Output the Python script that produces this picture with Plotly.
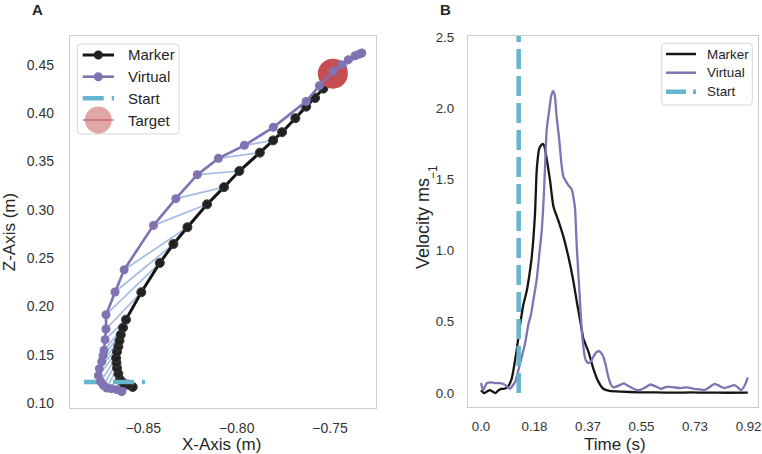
import plotly.graph_objects as go

# ---------------- data ----------------
# Panel A: trajectories (X, Z in metres), in time order
marker_x = [-0.8557, -0.8580, -0.8607, -0.8625, -0.8634, -0.8641, -0.8644, -0.8646,
            -0.8641, -0.8634, -0.8628, -0.8621, -0.8609, -0.8593, -0.8511, -0.8412,
            -0.8339, -0.8264, -0.8159, -0.8068, -0.7986, -0.7876, -0.7805, -0.7757,
            -0.7686, -0.7628, -0.7580, -0.7536, -0.7494, -0.7457, -0.7446, -0.7436]
marker_z = [0.1166, 0.1190, 0.1207, 0.1241, 0.1303, 0.1362, 0.1417, 0.1466,
            0.1531, 0.1586, 0.1645, 0.1707, 0.1780, 0.1863, 0.2147, 0.2450,
            0.2646, 0.2820, 0.3057, 0.3235, 0.3402, 0.3592, 0.3719, 0.3804,
            0.3949, 0.4068, 0.4158, 0.4255, 0.4358, 0.4431, 0.4451, 0.4462]
virtual_x = [-0.8616, -0.8616, -0.8616, -0.8643, -0.8673, -0.8696, -0.8714, -0.8729,
             -0.8741, -0.8736, -0.8723, -0.8716, -0.8711, -0.8705, -0.8700, -0.8700,
             -0.8652, -0.8603, -0.8446, -0.8326, -0.8211, -0.8098, -0.7959, -0.7804,
             -0.7628, -0.7557, -0.7482, -0.7437, -0.7402, -0.7366, -0.7344, -0.7330]
virtual_z = [0.1120, 0.1120, 0.1120, 0.1138, 0.1148, 0.1155, 0.1184, 0.1221,
             0.1283, 0.1355, 0.1428, 0.1490, 0.1545, 0.1656, 0.1766, 0.1914,
             0.2149, 0.2380, 0.2839, 0.3116, 0.3364, 0.3533, 0.3668, 0.3854,
             0.4123, 0.4286, 0.4434, 0.4503, 0.4555, 0.4596, 0.4612, 0.4624]
start_x = [-0.8818, -0.8491]
start_z = 0.1217
target_x = [-0.7485]
target_z = [0.4410]

# Panel B: velocity profiles
time_marker = [0.000, 0.010, 0.020, 0.030, 0.040, 0.050, 0.060, 0.070, 0.080, 0.094,
               0.105, 0.111, 0.122, 0.134, 0.145, 0.157, 0.165, 0.174, 0.185, 0.191,
               0.200, 0.211, 0.216, 0.223, 0.236, 0.248, 0.265, 0.282, 0.299, 0.316,
               0.330, 0.343, 0.351, 0.368, 0.385, 0.402, 0.419, 0.440, 0.480, 0.540,
               0.600, 0.660, 0.720, 0.780, 0.840, 0.914]
vel_marker = [0.02, 0.00, 0.01, 0.02, 0.01, 0.00, 0.02, 0.03, 0.03, 0.05,
              0.10, 0.16, 0.30, 0.48, 0.62, 0.72, 0.82, 0.96, 1.26, 1.57,
              1.72, 1.75, 1.74, 1.67, 1.50, 1.31, 1.21, 1.10, 0.96, 0.79,
              0.62, 0.47, 0.38, 0.29, 0.17, 0.08, 0.03, 0.016, 0.01, 0.005,
              0.004, 0.003, 0.004, 0.003, 0.002, 0.003]
time_virtual = [0.000, 0.007, 0.020, 0.035, 0.050, 0.065, 0.080, 0.090, 0.099, 0.117,
                0.134, 0.151, 0.162, 0.171, 0.180, 0.191, 0.200, 0.208, 0.215, 0.219,
                0.225, 0.234, 0.240, 0.246, 0.252, 0.259, 0.268, 0.275, 0.282, 0.290,
                0.299, 0.311, 0.317, 0.322, 0.328, 0.337, 0.345, 0.351, 0.356, 0.362,
                0.368, 0.376, 0.385, 0.395, 0.405, 0.412, 0.419, 0.428, 0.436, 0.445,
                0.453, 0.470, 0.488, 0.505, 0.522, 0.540, 0.560, 0.580, 0.600, 0.616,
                0.638, 0.660, 0.685, 0.707, 0.730, 0.750, 0.764, 0.782, 0.800, 0.817,
                0.834, 0.850, 0.868, 0.880, 0.891, 0.905, 0.914]
vel_virtual = [0.07, 0.02, 0.07, 0.075, 0.07, 0.07, 0.06, 0.045, 0.03, 0.08,
               0.21, 0.35, 0.48, 0.55, 0.66, 0.80, 0.98, 1.14, 1.38, 1.57,
               1.85, 1.99, 2.08, 2.12, 2.10, 1.94, 1.78, 1.62, 1.52, 1.49,
               1.46, 1.43, 1.37, 1.30, 1.03, 0.72, 0.44, 0.32, 0.25, 0.22,
               0.21, 0.22, 0.255, 0.285, 0.295, 0.28, 0.255, 0.19, 0.115, 0.06,
               0.04, 0.05, 0.068, 0.05, 0.03, 0.02, 0.035, 0.06, 0.045, 0.03,
               0.045, 0.04, 0.035, 0.04, 0.03, 0.025, 0.02, 0.04, 0.065, 0.05,
               0.035, 0.045, 0.055, 0.04, 0.02, 0.06, 0.11]
start_time = 0.129

time_tickvals = [0.0, 0.1833, 0.3667, 0.55, 0.7333, 0.9167]
time_ticktext = ["0.0", "0.18", "0.37", "0.55", "0.73", "0.92"]
z_tickvals = [0.10, 0.15, 0.20, 0.25, 0.30, 0.35, 0.40, 0.45]
x_tickvals = [-0.85, -0.80, -0.75]
vel_tickvals = [0.0, 0.5, 1.0, 1.5, 2.0, 2.5]
legend_labels_a = ["Marker", "Virtual", "Start", "Target"]
legend_labels_b = ["Marker", "Virtual", "Start"]

# ---------------- styles ----------------
W, H = 762, 454
FONT = "Liberation Sans, Arial, sans-serif"
BLACK = "#151515"
PURPLE = "#8172B3"
CYAN = "#64B5CD"
RED = "#C44E52"
LINK = "#a3bde3"
FRAME = "#cccccc"
TXT = "#262626"


def X(px):
    return px / W


def Y(py):
    return 1 - py / H


fig = go.Figure()

# connecting lines between paired samples
link_x, link_z = [], []
for mx, mz, vx, vz in zip(marker_x, marker_z, virtual_x, virtual_z):
    link_x += [mx, vx, None]
    link_z += [mz, vz, None]
fig.add_trace(go.Scatter(x=link_x, y=link_z, mode="lines",
                         line=dict(color=LINK, width=1.7),
                         xaxis="x", yaxis="y", showlegend=False, hoverinfo="skip"))
fig.add_trace(go.Scatter(x=marker_x, y=marker_z, mode="lines+markers", name="Marker",
                         line=dict(color=BLACK, width=3),
                         marker=dict(size=9, color="#222222", line=dict(color="#3a3a3a", width=1)),
                         xaxis="x", yaxis="y", showlegend=False))
fig.add_trace(go.Scatter(x=start_x, y=[start_z, start_z], mode="lines", name="Start",
                         line=dict(color=CYAN, width=4.5, dash="21px,8px"),
                         xaxis="x", yaxis="y", showlegend=False))
fig.add_trace(go.Scatter(x=target_x, y=target_z, mode="markers", name="Target",
                         marker=dict(size=30, color=RED, line=dict(width=0)),
                         xaxis="x", yaxis="y", showlegend=False))
fig.add_trace(go.Scatter(x=virtual_x, y=virtual_z, mode="lines+markers", name="Virtual",
                         line=dict(color=PURPLE, width=2.6),
                         marker=dict(size=9, color=PURPLE),
                         xaxis="x", yaxis="y", showlegend=False))

# panel B
fig.add_trace(go.Scatter(x=time_marker, y=vel_marker, mode="lines", name="Marker",
                         line=dict(color=BLACK, width=2.3, shape="spline", smoothing=0.5),
                         xaxis="x2", yaxis="y2", showlegend=False))
fig.add_trace(go.Scatter(x=time_virtual, y=vel_virtual, mode="lines", name="Virtual",
                         line=dict(color=PURPLE, width=2.3, shape="spline", smoothing=0.5),
                         xaxis="x2", yaxis="y2", showlegend=False))
fig.add_trace(go.Scatter(x=[start_time, start_time], y=[0, 2.7], mode="lines", name="Start",
                         line=dict(color=CYAN, width=4.5, dash="20px,7px"),
                         xaxis="x2", yaxis="y2", showlegend=False))

axis_common = dict(showgrid=False, zeroline=False, showline=True, mirror=True,
                   linecolor=FRAME, linewidth=1.3, ticks="", automargin=False)

fig.update_layout(
    width=W, height=H,
    margin=dict(l=0, r=0, t=0, b=0),
    paper_bgcolor="white", plot_bgcolor="white",
    font=dict(family=FONT, color=TXT),
    showlegend=False,
    xaxis=dict(domain=[X(70), X(376)], range=[-0.8893, -0.7254], anchor="y",
               tickvals=x_tickvals, tickformat=".2f", ticklabelstandoff=7,
               tickfont=dict(size=14, color="#333333"), **axis_common),
    yaxis=dict(domain=[Y(408), Y(36)], range=[0.0948, 0.480], anchor="x",
               tickvals=z_tickvals, tickformat=".2f", ticklabelstandoff=12,
               tickfont=dict(size=14, color="#333333"), **axis_common),
    xaxis2=dict(domain=[X(468), X(758)], range=[-0.0446, 0.949], anchor="y2",
                tickvals=time_tickvals, ticktext=time_ticktext, ticklabelstandoff=7,
                tickfont=dict(size=13.3, color="#333333"), **axis_common),
    yaxis2=dict(domain=[Y(407), Y(36)], range=[-0.098, 2.507], anchor="x2",
                tickvals=vel_tickvals, tickformat=".1f", ticklabelstandoff=10,
                tickfont=dict(size=13.3, color="#333333"), **axis_common),
)


def rounded_rect(x0, y0, x1, y1, r):
    def p(x, y):
        return f"{X(x):.5f},{Y(y):.5f}"
    return (f"M {p(x0 + r, y0)} L {p(x1 - r, y0)} Q {p(x1, y0)} {p(x1, y0 + r)} "
            f"L {p(x1, y1 - r)} Q {p(x1, y1)} {p(x1 - r, y1)} L {p(x0 + r, y1)} "
            f"Q {p(x0, y1)} {p(x0, y1 - r)} L {p(x0, y0 + r)} Q {p(x0, y0)} {p(x0 + r, y0)} Z")


shapes = []
annotations = []


def line_shape(x0, x1, y, color, width, dash="solid"):
    shapes.append(dict(type="line", xref="paper", yref="paper",
                       x0=X(x0), x1=X(x1), y0=Y(y), y1=Y(y),
                       line=dict(color=color, width=width, dash=dash)))


def circle_shape(cx, cy, d, fill, line_color=None, lw=0):
    shapes.append(dict(type="circle", xref="paper", yref="paper",
                       x0=X(cx - d / 2), x1=X(cx + d / 2), y0=Y(cy + d / 2), y1=Y(cy - d / 2),
                       fillcolor=fill, line=dict(color=line_color or fill, width=lw)))


def text(label, x, y, size, xanchor="left", angle=0, bold=False):
    annotations.append(dict(text=f"<b>{label}</b>" if bold else label,
                            xref="paper", yref="paper", x=X(x), y=Y(y),
                            xanchor=xanchor, yanchor="middle", showarrow=False,
                            textangle=angle, font=dict(size=size, family=FONT, color=TXT)))


# legend A
shapes.append(dict(type="path", xref="paper", yref="paper",
                   path=rounded_rect(77.3, 44, 179, 134, 3.5),
                   fillcolor="rgba(255,255,255,0.85)", line=dict(color="#d6d6d6", width=1)))
rows_a = [55, 76.7, 98.3, 120]
line_shape(82.7, 114, rows_a[0], BLACK, 3)
circle_shape(98.3, rows_a[0], 9, "#222222")
line_shape(82.7, 114, rows_a[1], PURPLE, 2.6)
circle_shape(98.3, rows_a[1], 9, PURPLE)
line_shape(82.7, 114, rows_a[2], CYAN, 4.5, "21px,8px")
circle_shape(98.3, rows_a[3], 27, "rgba(196,78,82,0.5)")
line_shape(82.7, 114, rows_a[3], "rgba(196,78,82,0.55)", 2)
for lab, yy in zip(legend_labels_a, rows_a):
    text(lab, 125.7, yy, 15)

# legend B
shapes.append(dict(type="path", xref="paper", yref="paper",
                   path=rounded_rect(661.7, 43.3, 752.3, 105, 3.5),
                   fillcolor="rgba(255,255,255,0.85)", line=dict(color="#d6d6d6", width=1)))
rows_b = [54, 72.7, 91.7]
line_shape(666, 696, rows_b[0], BLACK, 2.5)
line_shape(666, 696, rows_b[1], PURPLE, 2.5)
line_shape(666, 696, rows_b[2], CYAN, 4.5, "20px,7px")
for lab, yy in zip(legend_labels_b, rows_b):
    text(lab, 705, yy, 13.4)

# axis titles and panel letters
text("X-Axis (m)", 221.7, 444.5, 17, "center")
text("Z-Axis (m)", 9.5, 232.7, 17, "center", angle=-90)
text("Time (s)", 615, 444.5, 17, "center")
text("Velocity ms", 423, 224, 18, "center", angle=-90)
text("−1", 433, 172, 12, "center", angle=-90)
text("A", 37.5, 9, 15, "center", bold=True)
text("B", 445, 9, 15, "center", bold=True)

fig.update_layout(shapes=shapes, annotations=annotations)
fig.write_html("out.html",
               config={"displayModeBar": False},
               post_script="document.body.style.margin='0';document.body.style.overflow='hidden';")
